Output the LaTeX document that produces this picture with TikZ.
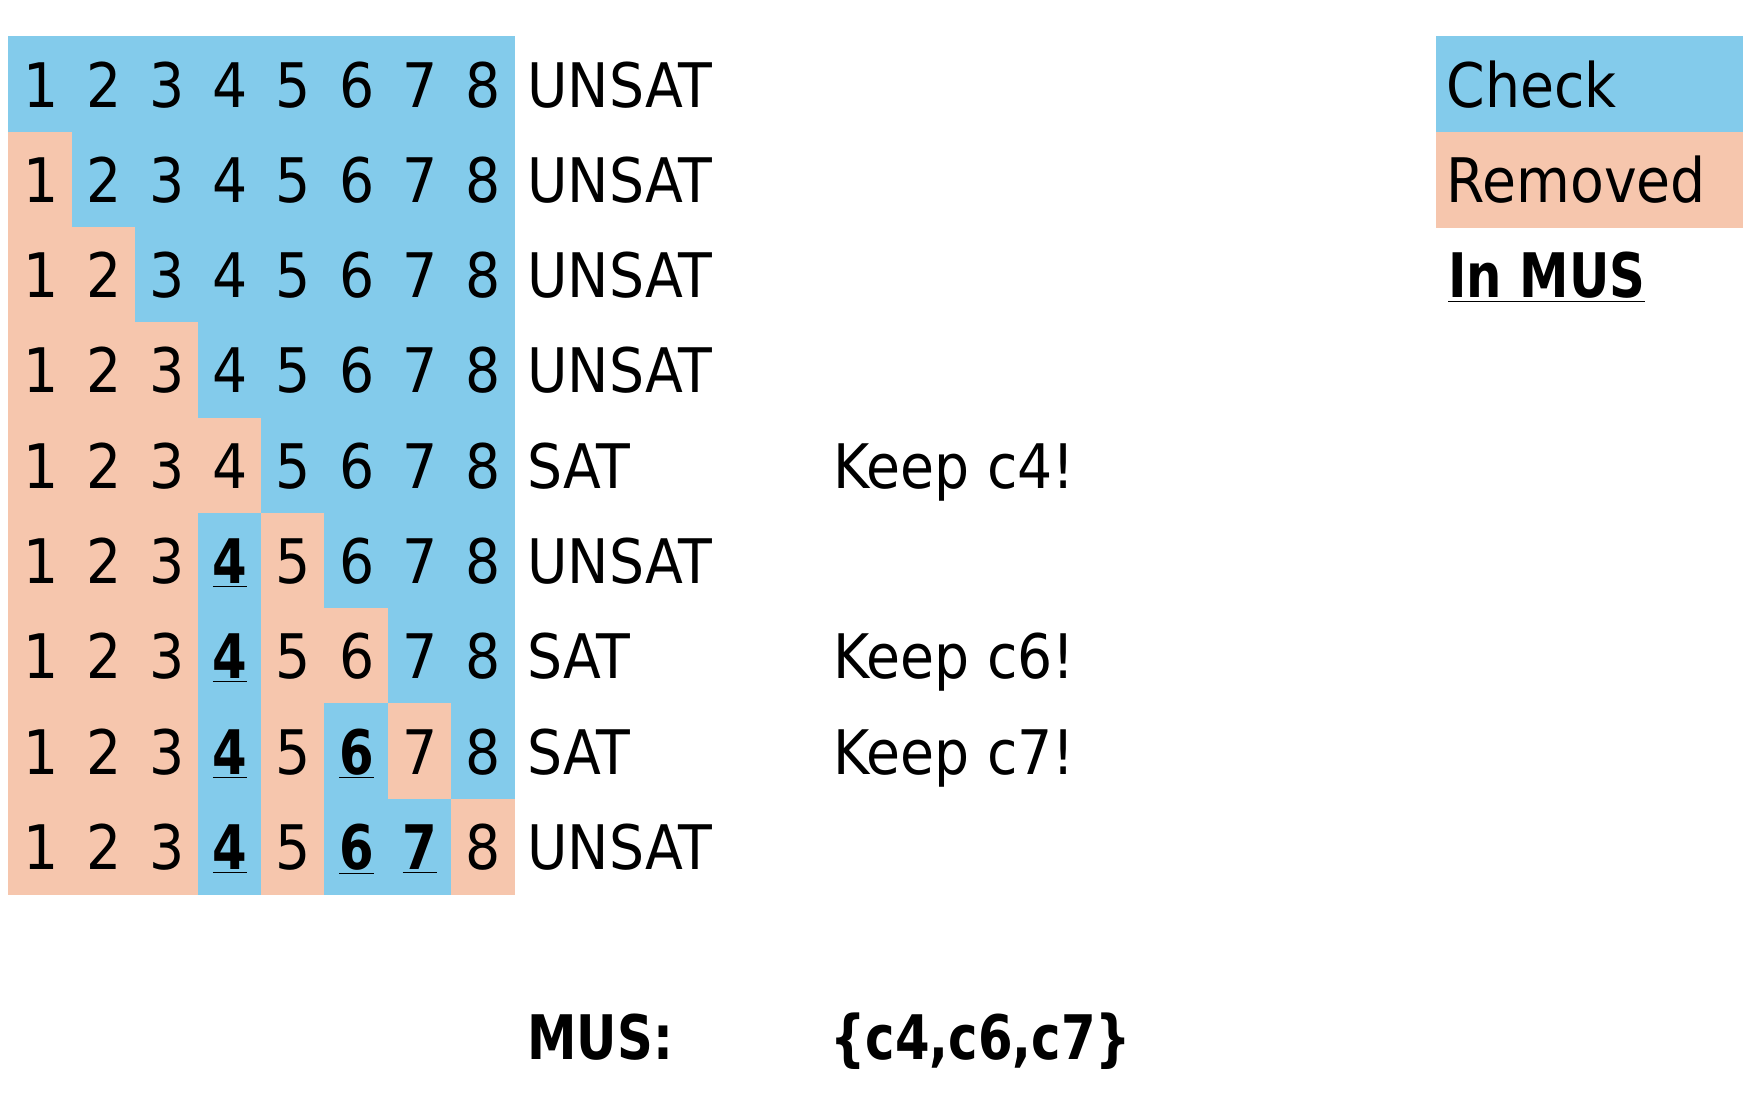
\documentclass[tikz,border=0pt]{standalone}
\usepackage{fontspec}
\setmainfont{DejaVu Sans Condensed}[BoldFont={DejaVu Sans Condensed Bold}, BoldFeatures={FakeStretch=0.9}]
\usetikzlibrary{positioning}

\definecolor{checkblue}{HTML}{83CBEB}
\definecolor{removedpeach}{HTML}{F6C6AD}

\tikzset{
  txt/.style={inner sep=0pt, text height=22.4pt, text depth=0pt},
  result/.style={txt, anchor=west},
  cell/.style={txt, minimum width=31.6pt, minimum height=47.65pt, outer sep=0pt, line width=0.6pt},
  state0/.style={cell, fill=checkblue, draw=checkblue},
  state1/.style={cell, fill=removedpeach, draw=removedpeach},
  state2/.style={state0},
  legbox/.style={cell, minimum width=152.75pt}
}

% clause number, bold and underlined once it is in the MUS
\newcommand{\cellnum}[2]{\ifnum#1=2 \underline{\textbf{#2}}\else #2\fi}

\begin{document}
\begin{tikzpicture}[x=0.5pt, y=-0.5pt, font=\fontsize{30.7pt}{36pt}\selectfont]

          \useasboundingbox (0,0) rectangle (1753,1101);

          % deletion steps: 0 = check, 1 = removed, 2 = in MUS
          \foreach \states [count=\r] in {
              {0,0,0,0,0,0,0,0},
              {1,0,0,0,0,0,0,0},
              {1,1,0,0,0,0,0,0},
              {1,1,1,0,0,0,0,0},
              {1,1,1,1,0,0,0,0},
              {1,1,1,2,1,0,0,0},
              {1,1,1,2,1,1,0,0},
              {1,1,1,2,1,2,1,0},
              {1,1,1,2,1,2,2,1}}{
              \foreach \s [count=\c] in \states {
                  \node[state\s] (n\r-\c) at ({9+63.2*(\c-0.5)}, {37+95.3*(\r-0.5)}) {\cellnum{\s}{\c}};
              }
          }

          % solver answers
          \foreach \res [count=\r] in {UNSAT,UNSAT,UNSAT,UNSAT,SAT,UNSAT,SAT,SAT,UNSAT}{
              \node[result] (res\r) at (527, {37+95.3*(\r-0.5)}) {\res};
          }

          % kept clauses
          \node[result] (keep4) at (833, {37+95.3*4.5}) {Keep c4!};
          \node[result] (keep6) at (833, {37+95.3*6.5}) {Keep c6!};
          \node[result] (keep7) at (833, {37+95.3*7.5}) {Keep c7!};

          % final MUS
          \node[result] (muslabel) at (527, 1037.5) {\textbf{MUS:}};
          \node[result] (musset) at (830, 1037.5) {\textbf{\{c4,c6,c7\}}};

          % legend
          \node[legbox, fill=checkblue, draw=checkblue] (legcheck) at (1589.25, {37+95.3*0.5}) {};
          \node[legbox, fill=removedpeach, draw=removedpeach] (legremoved) at (1589.25, {37+95.3*1.5}) {};
          \node[result, right=5pt of legcheck.west] (legchecktxt) {Check};
          \node[result, right=5pt of legremoved.west] (legremovedtxt) {Removed};
          \node[result] (legmus) at (1448, {37+95.3*2.5}) {\underline{\textbf{In MUS}}};

\end{tikzpicture}
\end{document}
